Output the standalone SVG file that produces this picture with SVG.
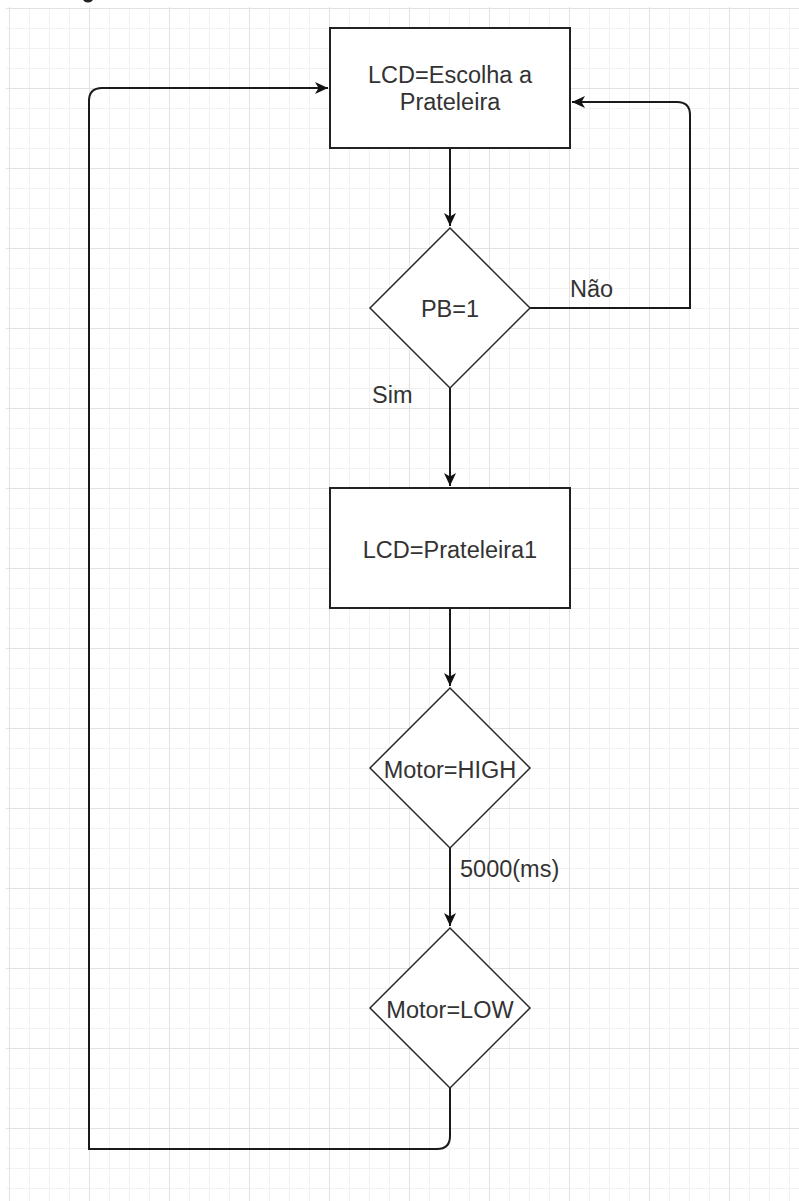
<svg xmlns="http://www.w3.org/2000/svg" width="799" height="1201" viewBox="0 0 799 1201">
<defs>
<pattern id="grid" patternUnits="userSpaceOnUse" x="9" y="8" width="80" height="80">
<path d="M20.5 0V80M40.5 0V80M60.5 0V80M0 20.5H80M0 40.5H80M0 60.5H80" stroke="#f1f1f1" stroke-width="1" fill="none"/>
<path d="M0.5 0V80M0 0.5H80" stroke="#e2e2e2" stroke-width="1" fill="none"/>
</pattern>
<marker id="arr" markerUnits="userSpaceOnUse" markerWidth="14" markerHeight="12" refX="13" refY="6" orient="auto">
<path d="M0,0 L13,6 L0,12 L3.5,6 Z" fill="#111"/>
</marker>
<style>
.box{fill:#fff;stroke:#222;stroke-width:2}
.dia{fill:#fff;stroke:#2a2a2a;stroke-width:1.5}
.t{font-family:"Liberation Sans",Arial,sans-serif;font-size:23.5px;fill:#333;text-anchor:middle}
.lbl{font-family:"Liberation Sans",Arial,sans-serif;font-size:23.5px;fill:#333}
.c{fill:none;stroke:#1a1a1a;stroke-width:2}
</style>
</defs>
<rect width="799" height="1201" fill="#fff"/>
<rect x="6" y="7" width="793" height="1194" fill="url(#grid)"/>
<ellipse cx="88" cy="-1" rx="5" ry="3.5" fill="#222"/>
<g id="connectors">
<path class="c" d="M450 148V226" marker-end="url(#arr)"/>
<path class="c" d="M530 308H690V115Q690 102 677 102H572" marker-end="url(#arr)"/>
<path class="c" d="M450 388V486" marker-end="url(#arr)"/>
<path class="c" d="M450 608V686" marker-end="url(#arr)"/>
<path class="c" d="M450 848V926" marker-end="url(#arr)"/>
<path class="c" d="M450 1088V1136Q450 1149 437 1149H89V101Q89 88 102 88H328" marker-end="url(#arr)"/>
<text class="lbl" x="570" y="297">Não</text>
<text class="lbl" x="372" y="403">Sim</text>
<text class="lbl" x="460" y="877">5000(ms)</text>
</g>
<g id="n1">
<rect class="box" x="330" y="28" width="240" height="120"/>
<text class="t" x="450" y="83">LCD=Escolha a</text>
<text class="t" x="450" y="110">Prateleira</text>
</g>
<g id="n2">
<path class="dia" d="M450 228L530 308L450 388L370 308Z"/>
<text class="t" x="450" y="317">PB=1</text>
</g>
<g id="n3">
<rect class="box" x="330" y="488" width="240" height="120"/>
<text class="t" x="450" y="558">LCD=Prateleira1</text>
</g>
<g id="n4">
<path class="dia" d="M450 688L530 768L450 848L370 768Z"/>
<text class="t" x="450" y="778">Motor=HIGH</text>
</g>
<g id="n5">
<path class="dia" d="M450 928L530 1008L450 1088L370 1008Z"/>
<text class="t" x="450" y="1018">Motor=LOW</text>
</g>
</svg>
